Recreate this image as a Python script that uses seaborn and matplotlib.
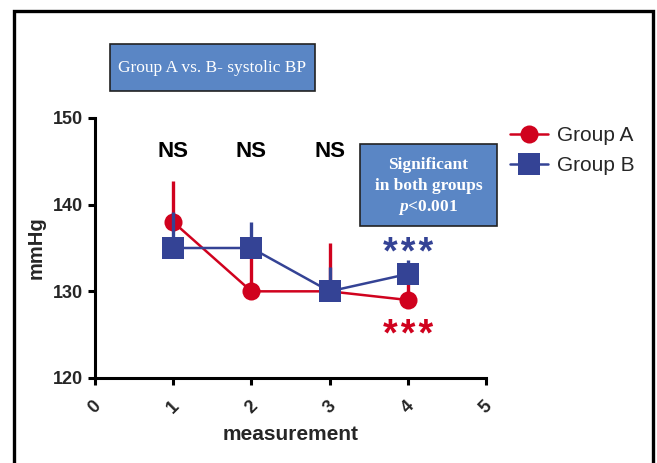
import matplotlib.pyplot as plt
import matplotlib.patches as patches
import pandas as pd
import seaborn as sns

# values
measurement = [1, 2, 3, 4]
group_a = [138, 130, 130, 129]
group_a_err = [4.7, 5.0, 5.6, 2.0]
group_b = [135, 135, 130, 132]
group_b_err = [4.1, 3.0, 2.8, 1.6]
ns_x = [1, 2, 3]
x_ticks = [0, 1, 2, 3, 4, 5]
y_ticks = [120, 130, 140, 150]

red = '#D0021E'
blue = '#344395'
box_blue = '#5A86C5'

df = pd.DataFrame({
    'measurement': measurement * 2,
    'mmHg': group_a + group_b,
    'err': group_a_err + group_b_err,
    'group': ['Group A'] * 4 + ['Group B'] * 4,
})

sns.set_style('ticks')
plt.rcParams['font.family'] = ['Liberation Sans', 'DejaVu Sans']
plt.rcParams['mathtext.fontset'] = 'custom'
plt.rcParams['mathtext.it'] = 'Liberation Serif:italic:bold'
plt.rcParams['mathtext.rm'] = 'Liberation Serif:bold'

W, H = 657, 463
fig = plt.figure(figsize=(W / 100, H / 100), dpi=100)
ax = fig.add_axes([95 / W, 1 - 378 / H, 391 / W, 260 / H])

styles = {'Group A': (red, 'o', 13, 2, 3),
          'Group B': (blue, 's', 15.5, 4, 5)}
for name, (col, mk, ms, zerr, zline) in styles.items():
    d = df[df['group'] == name]
    ax.errorbar(d['measurement'], d['mmHg'], yerr=[[0] * len(d), d['err']],
                fmt='none', ecolor=col, elinewidth=2.4, capsize=0, zorder=zerr)
    sns.lineplot(data=d, x='measurement', y='mmHg', ax=ax, color=col,
                 marker=mk, markersize=ms, markeredgewidth=0, linewidth=1.8,
                 errorbar=None, label=name, zorder=zline)

ax.set_xlim(0, 5)
ax.set_ylim(120, 150)
ax.set_xticks(x_ticks)
ax.set_yticks(y_ticks)
ax.set_xticklabels([str(t) for t in x_ticks], rotation=45, ha='center',
                   va='top', fontsize=13, fontweight='bold')
ax.set_yticklabels([str(t) for t in y_ticks], fontsize=13, fontweight='bold')
ax.tick_params(width=2.2, length=5, pad=4, color='black')
ax.tick_params(axis='x', pad=9)
for s in ['left', 'bottom']:
    ax.spines[s].set_linewidth(2.2)
    ax.spines[s].set_color('black')
sns.despine(ax=ax)
ax.set_xlabel('measurement', fontsize=15, fontweight='bold', labelpad=6)
ax.set_ylabel('mmHg', fontsize=14.5, fontweight='bold', labelpad=5)

for x in ns_x:
    ax.text(x, 146.1, 'NS', ha='center', va='center', fontsize=16,
            fontweight='bold', color='black')
stars = '*\u200a*\u200a*'
ax.text(4, 133.1, stars, ha='center', va='baseline', fontsize=27,
        fontweight='bold', color=blue, family=['Liberation Sans', 'DejaVu Sans'],
        clip_on=False)
ax.text(4, 123.7, stars, ha='center', va='baseline', fontsize=27,
        fontweight='bold', color=red, family=['Liberation Sans', 'DejaVu Sans'],
        clip_on=False)

ax.legend(loc='upper left', bbox_to_anchor=(510 / W, 1 - 126 / H),
          bbox_transform=fig.transFigure, frameon=False, fontsize=15,
          handlelength=1.8, handletextpad=0.45, labelspacing=0.55,
          borderpad=0, borderaxespad=0)

# outer frame
fig.add_artist(patches.Rectangle((14 / W, -0.05), 639 / W, 1 - 11 / H + 0.05,
                                 transform=fig.transFigure, fill=False,
                                 edgecolor='black', linewidth=2.4))

# title box
fig.add_artist(patches.Rectangle((110 / W, 1 - 91 / H), 205 / W, 47 / H,
                                 transform=fig.transFigure, facecolor=box_blue,
                                 edgecolor='#222222', linewidth=1.2))
fig.text(212.5 / W, 1 - 68 / H, 'Group A vs. B- systolic BP', ha='center',
         va='center', color='white', fontsize=12.5, family='Liberation Serif')

# significance box
fig.add_artist(patches.Rectangle((360 / W, 1 - 226 / H), 137 / W, 82 / H,
                                 transform=fig.transFigure, facecolor=box_blue,
                                 edgecolor='#222222', linewidth=1.2))
sig_lines = ['Significant', 'in both groups', r'$p$<0.001']
for i, line in enumerate(sig_lines):
    fig.text(428.5 / W, 1 - (165 + 21 * i) / H, line, ha='center', va='center',
             color='white', fontsize=12.5, fontweight='bold',
             family='Liberation Serif')

fig.savefig('out.png', dpi=100)
